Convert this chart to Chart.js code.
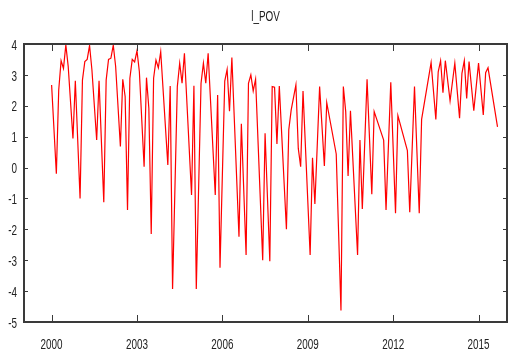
<!DOCTYPE html>
<html>
<head>
<meta charset="utf-8">
<script src="https://cdn.jsdelivr.net/npm/chart.js@4"></script>
<style>
  html, body { margin: 0; padding: 0; background: #fff; }
  #wrap { width: 508px; height: 358px; }
</style>
</head>
<body>
<div id="wrap"><canvas id="povChart" width="508" height="358"></canvas></div>
<script>
"use strict";

// months counted from January 2000
var monthIdx = [
    0, 2, 3, 4, 5, 6, 7, 9, 10, 12, 13, 14, 15, 16, 17, 19, 20, 22, 23, 24,
    25, 26, 27, 29, 30, 31, 32, 33, 34, 35, 36, 37, 39, 40, 41, 42, 43, 44, 45, 46,
    49, 50, 51, 53, 54, 55, 56, 59, 60, 61, 63, 64, 65, 66, 69, 70, 71, 73, 74, 75,
    76, 79, 80, 82, 83, 84, 85, 86, 89, 90, 92, 93, 94, 95, 96, 99, 100, 101, 103, 104,
    105, 106, 109, 110, 111, 113, 115, 116, 120, 122, 123, 124, 125, 126, 129, 130, 131, 133, 135, 136,
    140, 141, 143, 145, 146, 150, 151, 153, 155, 156, 160, 162, 163, 164, 165, 166, 168, 170, 172, 173,
    174, 175, 176, 178, 180, 182, 183, 184, 188
];
var lPov = [
    2.67, -0.2, 2.51, 3.46, 3.21, 3.97, 3.27, 0.94, 2.81, -1.0, 2.83, 3.43, 3.5, 3.95, 3.16, 0.89, 2.81, -1.12, 2.83, 3.5,
    3.54, 3.96, 3.27, 0.68, 2.86, 2.3, -1.37, 2.89, 3.5, 3.42, 3.78, 3.1, 0.03, 2.91, 1.92, -2.15, 2.89, 3.48, 3.23, 3.75,
    0.08, 2.64, -3.93, 2.62, 3.38, 2.73, 3.7, -0.89, 2.65, -3.93, 2.73, 3.38, 2.73, 3.7, -0.89, 2.35, -3.24, 2.8, 3.18, 1.82,
    3.56, -2.24, 1.42, -2.83, 2.73, 3.0, 2.48, 2.86, -3.0, 1.11, -3.03, 2.62, 2.6, 0.76, 2.64, -2.0, 1.23, 1.86, 2.68, 0.62,
    0.03, 2.48, -2.83, 0.32, -1.18, 2.62, 0.05, 2.1, 0.44, -4.63, 2.62, 1.81, -0.27, 1.84, -2.83, 0.89, -1.34, 2.86, -0.86, 1.81,
    0.89, -1.37, 2.76, -1.48, 1.68, 0.55, -1.45, 2.62, -1.48, 1.56, 3.4, 1.56, 3.1, 3.46, 2.42, 3.46, 2.16, 3.38, 1.6, 3.05,
    3.46, 2.24, 3.43, 1.84, 3.38, 1.7, 3.07, 3.23, 1.32
];
var yearTicks = [2000, 2003, 2006, 2009, 2012, 2015];

var points = monthIdx.map(function (m, i) {
    return { x: 2000 + m / 12, y: lPov[i] };
});

var FONT = "15px 'Liberation Sans', Arial, sans-serif";
var TEXT_COLOR = '#222';

// narrow text, the way the plotting program renders it
function narrowText(c, text, x, y, align) {
    c.save();
    c.translate(x, y);
    c.scale(0.66, 1);
    c.font = FONT;
    c.fillStyle = TEXT_COLOR;
    c.textAlign = align;
    c.textBaseline = 'middle';
    c.fillText(text, 0, 0);
    c.restore();
}

// box round the plot, inward ticks on all four sides, title and tick labels
var frame = {
    id: 'frame',
    afterDraw: function (chart) {
        var a = chart.chartArea, c = chart.ctx;
        var xs = chart.scales.x, ys = chart.scales.y;
        c.save();
        c.strokeStyle = '#3a3a3a';
        c.lineWidth = 1;
        c.beginPath();
        yearTicks.forEach(function (t) {
            var px = Math.round(xs.getPixelForValue(t)) + 0.5;
            c.moveTo(px, a.bottom); c.lineTo(px, a.bottom - 7);
            c.moveTo(px, a.top); c.lineTo(px, a.top + 7);
        });
        ys.ticks.forEach(function (t) {
            var py = Math.round(ys.getPixelForValue(t.value)) + 0.5;
            c.moveTo(a.left, py); c.lineTo(a.left + 4, py);
            c.moveTo(a.right, py); c.lineTo(a.right - 4, py);
        });
        c.stroke();
        c.lineWidth = 2;
        c.strokeRect(a.left, a.top, a.right - a.left, a.bottom - a.top);
        c.restore();

        yearTicks.forEach(function (t) {
            narrowText(c, String(t), xs.getPixelForValue(t), a.bottom + 23, 'center');
        });
        ys.ticks.forEach(function (t) {
            narrowText(c, String(t.value), a.left - 7, ys.getPixelForValue(t.value) + 1.5, 'right');
        });
        narrowText(c, 'l_POV', (a.left + a.right) / 2, 16.5, 'center');
    }
};

var ctx = document.querySelector('#povChart').getContext('2d');

var povChart = new Chart(ctx, {
    type: 'line',
    data: {
        datasets: [{
            data: points,
            borderColor: '#ff0000',
            borderWidth: 1.2,
            pointRadius: 0,
            tension: 0,
            fill: false
        }]
    },
    options: {
        responsive: false,
        animation: false,
        layout: { padding: { left: 0, right: 1, top: 44, bottom: 0 } },
        plugins: {
            legend: { display: false },
            tooltip: { enabled: false },
            title: { display: false }
        },
        scales: {
            x: {
                type: 'linear',
                min: 1999.03,
                max: 2016,
                grid: { display: false, drawTicks: false },
                border: { display: false },
                afterBuildTicks: function (scale) {
                    scale.ticks = yearTicks.map(function (v) { return { value: v }; });
                },
                afterFit: function (scale) { scale.height = 36; },
                ticks: { display: false }
            },
            y: {
                min: -5,
                max: 4,
                grid: { display: false, drawTicks: false },
                border: { display: false },
                afterFit: function (scale) { scale.width = 24; },
                ticks: { display: false, stepSize: 1 }
            }
        }
    },
    plugins: [frame]
});
</script>
</body>
</html>
